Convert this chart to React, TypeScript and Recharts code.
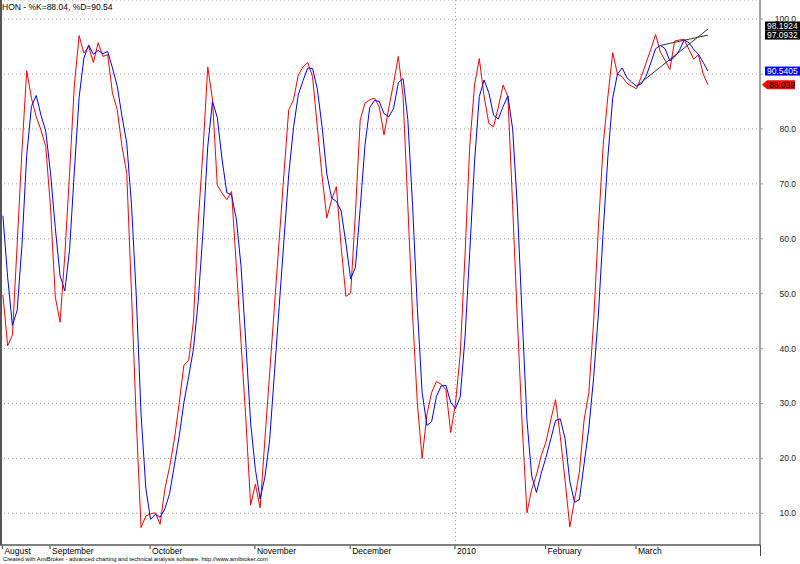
import React from "react";
import {
  CartesianGrid,
  Line,
  LineChart,
  ReferenceDot,
  ReferenceLine,
  XAxis,
  YAxis,
} from "recharts";

// Stochastic %K (fast, red) per trading day, Aug 2009 .. Mar 2010
const K_VALUES = [
  49.8, 40.5, 42.5, 59, 76, 90.6, 85.6, 82.2, 79.8, 76.8,
  65.7, 49.4, 44.8, 57, 72, 88, 97, 93.8, 95, 92.1,
  95.7, 93.2, 93.5, 86.5, 83.5, 76.8, 71.9, 50, 27, 7.4,
  9.5, 9.9, 10.1, 8, 14.4, 18.5, 23.5, 30, 37, 37.8,
  45, 63, 76, 91.3, 85.3, 69.8, 68.3, 67.1, 68.6, 55,
  41, 27.1, 11.5, 15.3, 11, 23.5, 35.6, 47.7, 59.8, 71.9,
  83.5, 85.3, 89.8, 91.3, 92.1, 89.5, 80.4, 71.3, 63.8, 67.1,
  69.5, 58.6, 49.5, 50.1, 64.7, 81.6, 84.7, 85.3, 85.6, 84,
  78.9, 83.8, 88.3, 93.2, 86, 66, 46, 30, 20, 28,
  32, 34, 33.5, 32.5, 24.7, 30, 39, 57, 77, 88,
  92.8, 86, 81, 80.4, 84, 88, 85.9, 66, 45, 26,
  10.1, 14.4, 17, 20.5, 23, 27, 30.7, 24, 16, 7.5,
  12.5, 17.5, 27, 32, 45, 62, 77, 86, 93.9, 90,
  89.5, 88.3, 87.8, 87.3, 89.5, 92, 94.5, 97.2, 94, 92.5,
  90.8, 96, 96.2, 96.3, 94.5, 92.7, 93.5, 90, 88.04,
];

// %D (slow, blue)
const D_VALUES = [
  64.2, 53, 44.2, 47, 58.8, 75.2, 84.1, 86.1, 82.5, 79.6,
  72, 62, 53.3, 50.5, 58, 72.3, 85.7, 92.9, 95.3, 93.6,
  94.3, 93.7, 94.1, 91.1, 87.8, 82.3, 77.4, 66.2, 49.6, 28.1,
  14.6, 8.9, 9.8, 9.3, 10.8, 13.6, 18.8, 24, 30.2, 34.9,
  39.9, 48.6, 61.3, 76.8, 85, 82.1, 74.5, 68.4, 68, 63.6,
  54.9, 41, 26.5, 18, 12.6, 16.6, 23.4, 35.6, 47.7, 59.8,
  71.7, 80.2, 86.2, 88.8, 91.1, 91, 87.3, 80.4, 71.8, 67.4,
  66.8, 65.1, 59.2, 52.7, 54.8, 65.5, 77, 83.9, 85.2, 85,
  82.8, 82.2, 83.7, 88.4, 89.2, 81.7, 66, 47.3, 32, 26,
  26.7, 31.3, 33.2, 33.3, 30.2, 29.1, 31.2, 42, 57.7, 74,
  85.9, 88.9, 86.6, 82.5, 81.8, 84.1, 86, 80, 65.6, 45.7,
  27, 16.8, 13.8, 17.3, 20.2, 23.5, 26.9, 27.2, 23.6, 15.8,
  12, 12.5, 19, 25.5, 34.7, 46.3, 61.3, 75, 85.6, 90,
  91.1, 89.3, 88.5, 87.8, 88.2, 89.6, 92, 94.6, 95.2, 94.6,
  92.4, 93.1, 94.3, 96.2, 95.7, 94.5, 93.6, 92.1, 90.54,
];

// first bar of each month
const MONTH_TICKS = [0, 10, 31, 53, 73, 95, 114, 133];
const MONTH_LABELS = ["August", "September", "October", "November", "December", "2010", "February", "March"];
const YEAR_BREAK = 95;

const Y_TICKS = [10, 20, 30, 40, 50, 60, 70, 80, 90, 100];

// hand-drawn trendlines: [bar, value]
const TREND_LOWER = [
  [133, 87.8],
  [148, 98.1924],
];
const TREND_UPPER = [
  [138, 95.2],
  [148, 97.0932],
];

// right-axis value badges
const BADGE_VALUES = [98.1924, 97.0932, 90.5405, 88.039];
const BADGE_TEXT = ["98.1924", "97.0932", "90.5405", "88.039"];
const BADGE_FILL = ["#000000", "#000000", "#0000ff", "#ff0000"];
const BADGE_INK = ["#ffffff", "#ffffff", "#ffffff", "#000000"];
const BADGE_SHIFT = [-3, 0, 0, 0];

const FONT = "Arial, 'Liberation Sans', sans-serif";
const PLOT_RIGHT = 760;

const data = K_VALUES.map((k, i) => ({ i, k, d: D_VALUES[i] }));
const LAST = K_VALUES.length - 1;

function MonthTick(props: any) {
  const { x, y, payload } = props;
  const label = MONTH_LABELS[MONTH_TICKS.indexOf(payload.value)];
  return (
    <g>
      <line x1={x - 0.5} x2={x - 0.5} y1={y + 1} y2={y + 4} stroke="#333" />
      <text x={x + 1.5} y={y + 8.5} fontSize={8.5} fontFamily={FONT} fill="#000">
        {label}
      </text>
    </g>
  );
}

function ValueTick(props: any) {
  const { x, y, payload } = props;
  // a tick label sitting under a value badge is covered in the original
  const covered = BADGE_VALUES.some((b) => Math.abs(b - payload.value) < 1);
  if (covered) return <g />;
  return (
    <text x={x + 33} y={y + 3} textAnchor="end" fontSize={8.5} fontFamily={FONT} fill="#1a1a2a">
      {payload.value.toFixed(1)}
    </text>
  );
}

function badgeShape(n: number) {
  return (p: any) => {
    const cy = p.cy + BADGE_SHIFT[n];
    const isArrow = n === 3;
    const left = PLOT_RIGHT + (isArrow ? 7 : 5);
    const right = isArrow ? 795 : 800;
    return (
      <g>
        {isArrow ? (
          <polygon
            points={`${PLOT_RIGHT + 2},${cy} ${left},${cy - 4.5} ${right},${cy - 4.5} ${right},${cy + 4.5} ${left},${cy + 4.5}`}
            fill={BADGE_FILL[n]}
          />
        ) : (
          <rect x={left} y={cy - 4.5} width={right - left} height={9} fill={BADGE_FILL[n]} />
        )}
        <text x={left + 2} y={cy + 3} fontSize={8.5} fontFamily={FONT} fill={BADGE_INK[n]}>
          {BADGE_TEXT[n]}
        </text>
      </g>
    );
  };
}

export default function App() {
  return (
    <div style={{ position: "absolute", left: 0, top: 0, width: 800, height: 564, background: "#fff" }}>
      <LineChart width={800} height={564} data={data} margin={{ top: 0, right: 0, bottom: 18, left: 0 }}>
        <CartesianGrid vertical={false} stroke="#9a9a9a" strokeDasharray="1 3" />
        <XAxis
          type="number"
          dataKey="i"
          domain={[-0.605, 158.92]}
          allowDataOverflow
          ticks={MONTH_TICKS}
          interval={0}
          height={1}
          tickSize={0}
          tickMargin={0}
          tickLine={false}
          axisLine={{ stroke: "#808080", strokeWidth: 2 }}
          tick={<MonthTick />}
        />
        <YAxis
          orientation="right"
          type="number"
          domain={[4.23, 103.48]}
          allowDataOverflow
          ticks={Y_TICKS}
          interval={0}
          width={40}
          tickSize={3}
          tickMargin={0}
          axisLine={{ stroke: "#444" }}
          tickLine={{ stroke: "#999" }}
          tick={<ValueTick />}
        />
        <ReferenceLine x={YEAR_BREAK} stroke="#9a9a9a" strokeDasharray="1 3" />
        <Line type="linear" dataKey="k" stroke="#ff0000" strokeWidth={1} dot={false} isAnimationActive={false} />
        <Line type="linear" dataKey="d" stroke="#0000ff" strokeWidth={1} dot={false} isAnimationActive={false} />
        {[TREND_LOWER, TREND_UPPER].map((t, n) => (
          <ReferenceLine
            key={`t${n}`}
            segment={[
              { x: t[0][0], y: t[0][1] },
              { x: t[1][0], y: t[1][1] },
            ]}
            stroke="#333"
            strokeWidth={1}
            ifOverflow="visible"
          />
        ))}
        {BADGE_VALUES.map((v, n) => (
          <ReferenceDot key={`b${n}`} x={LAST} y={v} r={0} ifOverflow="visible" shape={badgeShape(n)} />
        ))}
      </LineChart>
      <div style={{ position: "absolute", left: 0, top: 0, width: 1.5, height: 545, background: "#555" }} />
      <div style={{ position: "absolute", left: 759.5, top: 545, width: 1, height: 11, background: "#444" }} />
      <div
        style={{
          position: "absolute",
          left: 2,
          top: 2.5,
          fontFamily: FONT,
          fontSize: 8.5,
          lineHeight: 1,
          color: "#000",
          whiteSpace: "nowrap",
        }}
      >
        HON - %K=88.04, %D=90.54
      </div>
      <div
        style={{
          position: "absolute",
          left: 3,
          top: 556.5,
          fontFamily: FONT,
          fontSize: 5.8,
          lineHeight: 1,
          color: "#000",
          whiteSpace: "nowrap",
        }}
      >
        Created with AmiBroker - advanced charting and technical analysis software. http://www.amibroker.com
      </div>
    </div>
  );
}
